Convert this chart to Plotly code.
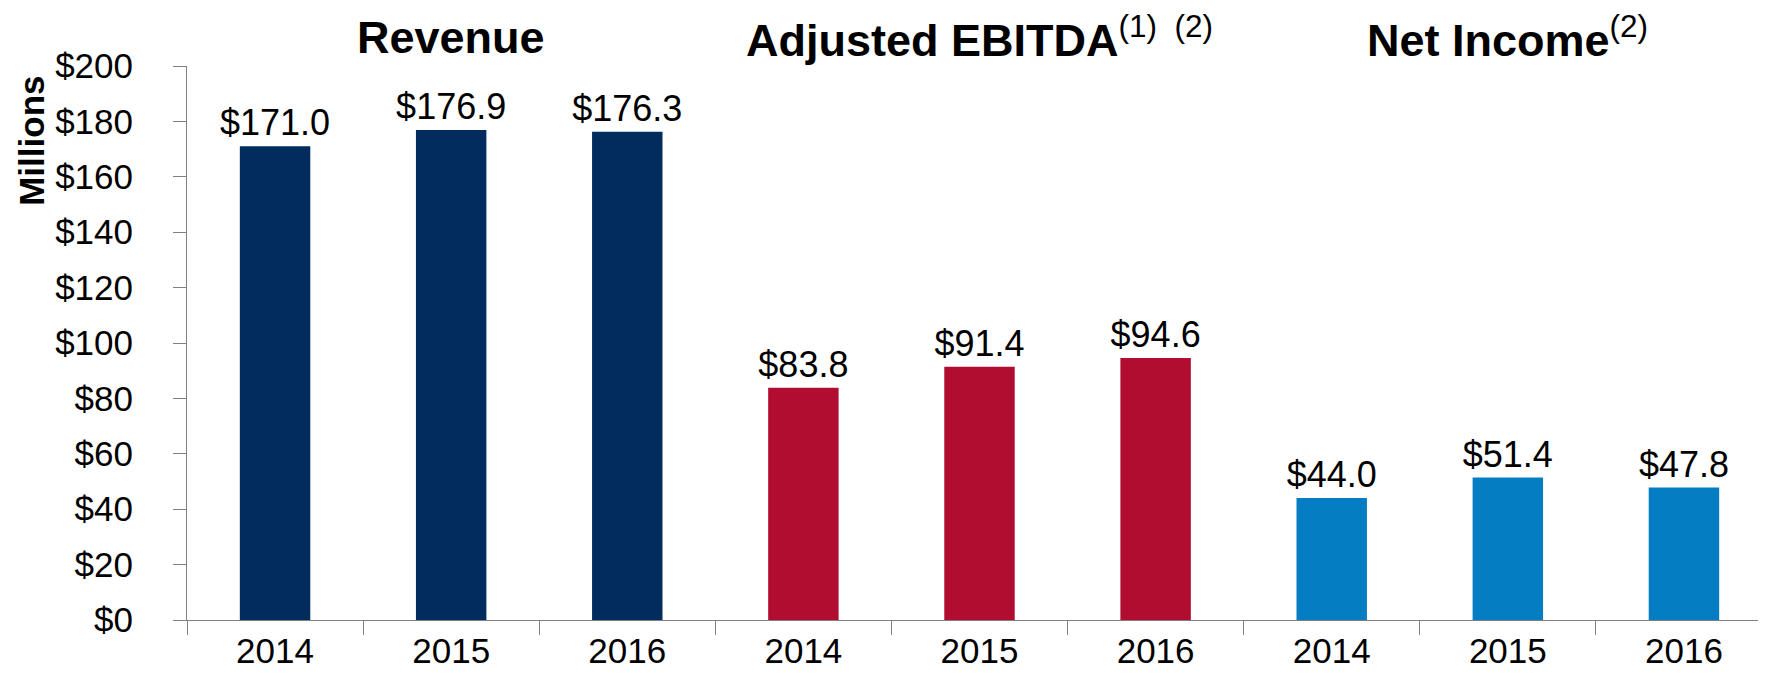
import plotly.graph_objects as go

years = ["2014", "2015", "2016"]
revenue = [171.0, 176.9, 176.3]
adj_ebitda = [83.8, 91.4, 94.6]
net_income = [44.0, 51.4, 47.8]

groups = ["Revenue", "Adjusted EBITDA", "Net Income"]
group_titles = ["<b>Revenue</b>",
                "<b>Adjusted EBITDA</b><sup>(1)  (2)</sup>",
                "<b>Net Income</b><sup>(2)</sup>"]
group_values = [revenue, adj_ebitda, net_income]
group_colors = ["#022C5D", "#B10D31", "#057DC2"]

y_ticks = [0, 20, 40, 60, 80, 100, 120, 140, 160, 180, 200]
y_labels = ["$" + str(v) for v in y_ticks]

# no narrow font available offline, so Liberation Sans at a slightly smaller size
FONT = "Liberation Sans Narrow, Arial Narrow, Liberation Sans, Arial, sans-serif"

fig = go.Figure()
all_keys = []
for g, vals, col in zip(groups, group_values, group_colors):
    keys = [g + " " + y for y in years]
    all_keys += keys
    fig.add_trace(go.Bar(x=keys, y=vals, marker_color=col, marker_line_width=0,
                         texttemplate="$%{y:.1f}", textposition="outside",
                         constraintext="none",
                         textfont=dict(size=36, color="black", family=FONT),
                         cliponaxis=False, showlegend=False))

# group headings above the middle bar of each group
for g, t in zip(groups, group_titles):
    fig.add_annotation(x=g + " 2015", y=1, xref="x", yref="paper", text=t,
                       showarrow=False, xanchor="center", yanchor="middle",
                       yshift=29,
                       font=dict(size=45, color="black", family=FONT))

fig.add_annotation(x=0, xref="paper", y=173, yref="y", xshift=-155,
                   xanchor="center", yanchor="middle",
                   text="<b>Millions</b>", textangle=-90, showarrow=False,
                   font=dict(size=35, color="black", family=FONT))

fig.update_xaxes(type="category", tickvals=all_keys, ticktext=years * 3,
                 tickson="boundaries", ticks="outside", ticklen=14,
                 tickcolor="#808080", showline=True, linecolor="#808080",
                 linewidth=1, showgrid=False, automargin=False,
                 tickfont=dict(size=35, color="black", family=FONT))
fig.update_yaxes(range=[0, 200], tickmode="array", tickvals=y_ticks,
                 ticktext=y_labels,
                 ticks="outside", ticklen=13, tickcolor="#808080",
                 showline=True, linecolor="#808080", linewidth=1,
                 showgrid=False, zeroline=False, ticklabelstandoff=33,
                 automargin=False,
                 tickfont=dict(size=35, color="black", family=FONT))

fig.update_layout(width=1766, height=686, barmode="overlay", bargap=0.6,
                  plot_bgcolor="white", paper_bgcolor="white",
                  margin=dict(l=179, r=2, t=58, b=74))

fig.write_html("out.html")
